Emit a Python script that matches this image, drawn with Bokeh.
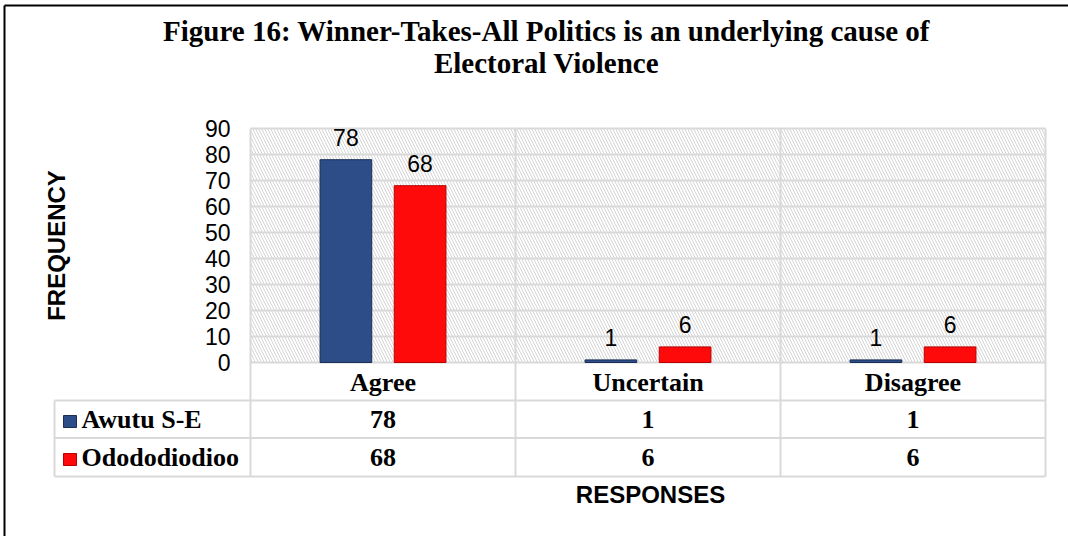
import math
from bokeh.plotting import figure
from bokeh.models import Range1d, FixedTicker, ColumnDataSource
from bokeh.core.properties import value
from bokeh.embed import file_html
from bokeh.resources import INLINE

# ---- data ----
categories = ["Agree", "Uncertain", "Disagree"]
series_names = ["Awutu S-E", "Odododiodioo"]
awutu = [78, 1, 1]
ododo = [68, 6, 6]
y_ticks = [0, 10, 20, 30, 40, 50, 60, 70, 80, 90]
title_lines = ["Figure 16: Winner-Takes-All Politics is an underlying cause of",
               "Electoral Violence"]

W, H = 1068, 536
PX_PER_CAT = 265.0
PX_PER_UNIT = 2.6
X0_PX = 250.0   # left edge of plot area
Y0_PX = 362.0   # value 0 baseline


def X(px):
    return -0.5 + (px - X0_PX) / PX_PER_CAT


def Y(py):
    return (Y0_PX - py) / PX_PER_UNIT


SERIF = value("Liberation Serif")
SANS = value("Liberation Sans")

p = figure(width=W, height=H, output_backend="svg", toolbar_location=None,
           x_range=Range1d(X(0), X(W)), y_range=Range1d(Y(H), Y(0)),
           x_axis_location=None, min_border=0)
p.outline_line_color = None
p.grid.visible = False
p.background_fill_color = "white"
p.border_fill_color = "white"

# y axis (tick labels pulled inside beside plot area)
ax = p.yaxis[0]
ax.ticker = FixedTicker(ticks=y_ticks)
ax.axis_line_color = None
ax.major_tick_line_color = None
ax.minor_tick_line_color = None
ax.major_tick_out = 0
ax.major_tick_in = 0
ax.major_label_standoff = -230
ax.major_label_text_font = "Liberation Sans"
ax.major_label_text_font_size = "23px"
ax.major_label_text_color = "black"

n = len(categories)
xc = list(range(n))
grid_col = "#d9d9d9"

# hatched plot area
p.quad(left=[-0.5], right=[n - 0.5], bottom=[0], top=[y_ticks[-1]],
       fill_color="white", line_color=None, hatch_pattern="\\",
       hatch_color="#d4d4d4", hatch_scale=6, hatch_weight=1)

# horizontal gridlines
p.segment(x0=[-0.5] * len(y_ticks), x1=[n - 0.5] * len(y_ticks),
          y0=y_ticks, y1=y_ticks, line_color=grid_col, line_width=2)

# vertical lines (plot area + table columns)
vx = [i - 0.5 for i in range(n + 1)]
p.segment(x0=vx, x1=vx, y0=[Y(476)] * len(vx), y1=[y_ticks[-1]] * len(vx),
          line_color=grid_col, line_width=2)

# table horizontal lines
row_lines = [Y(400), Y(437.5), Y(476)]
p.segment(x0=[X(54)] * 3, x1=[n - 0.5] * 3, y0=row_lines, y1=row_lines,
          line_color=grid_col, line_width=2)
p.segment(x0=[X(54)], x1=[X(54)], y0=[Y(400)], y1=[Y(476)],
          line_color=grid_col, line_width=2)

# outer border
p.segment(x0=[X(4), X(4)], x1=[X(4), X(W + 5)], y0=[Y(5), Y(5)], y1=[Y(H + 5), Y(5)],
          line_color="black", line_width=2)

# bars
off = 0.14
bw = 0.195
blue = "#2c4d88"
blue_edge = "#1a2e56"
red = "#ff0a0a"
red_edge = "#b80000"
src_a = ColumnDataSource(dict(x=[c - off for c in xc], top=awutu, lab=[str(v) for v in awutu]))
src_o = ColumnDataSource(dict(x=[c + off for c in xc], top=ododo, lab=[str(v) for v in ododo]))
p.vbar(x="x", top="top", bottom=0, width=bw, source=src_a,
       fill_color=blue, line_color=blue_edge, line_width=1)
p.vbar(x="x", top="top", bottom=0, width=bw, source=src_o,
       fill_color=red, line_color=red_edge, line_width=1)

# data labels
for src in (src_a, src_o):
    p.text(x="x", y="top", text="lab", source=src, text_font=SANS,
           text_font_size="23px", text_color="black", text_align="center",
           text_baseline="bottom", y_offset=-14)

# category labels row
p.text(x=xc, y=[Y(382)] * n, text=categories, text_font=SERIF,
       text_font_style="bold", text_font_size="26px", text_color="black",
       text_align="center", text_baseline="middle")

# table values
row_y = [Y(419), Y(457)]
for vals, ry in zip((awutu, ododo), row_y):
    p.text(x=xc, y=[ry] * n, text=[str(v) for v in vals], text_font=SERIF,
           text_font_style="bold", text_font_size="26px", text_color="black",
           text_align="center", text_baseline="middle")

# legend keys and series names
p.rect(x=[X(69.5)] * 2, y=[Y(421), Y(459)], width=13, height=12,
       width_units="screen", height_units="screen",
       fill_color=[blue, red], line_color=[blue_edge, red_edge])
p.text(x=[X(81)] * 2, y=row_y, text=series_names, text_font=SERIF,
       text_font_style="bold", text_font_size="26px", text_color="black",
       text_align="left", text_baseline="middle")

# axis titles
p.text(x=[X(56)], y=[Y(245)], text=["FREQUENCY"], angle=math.pi / 2,
       text_font=SANS, text_font_style="bold", text_font_size="24px",
       text_color="black", text_align="center", text_baseline="middle")
p.text(x=[X(650)], y=[Y(494)], text=["RESPONSES"], text_font=SANS,
       text_font_style="bold", text_font_size="24px", text_color="black",
       text_align="center", text_baseline="middle")

# chart title
p.text(x=[X(546)] * 2, y=[Y(30), Y(62)], text=title_lines, text_font=SERIF,
       text_font_style="bold", text_font_size="29px", text_color="black",
       text_align="center", text_baseline="middle")

open("out.html", "w").write(file_html(p, INLINE))
